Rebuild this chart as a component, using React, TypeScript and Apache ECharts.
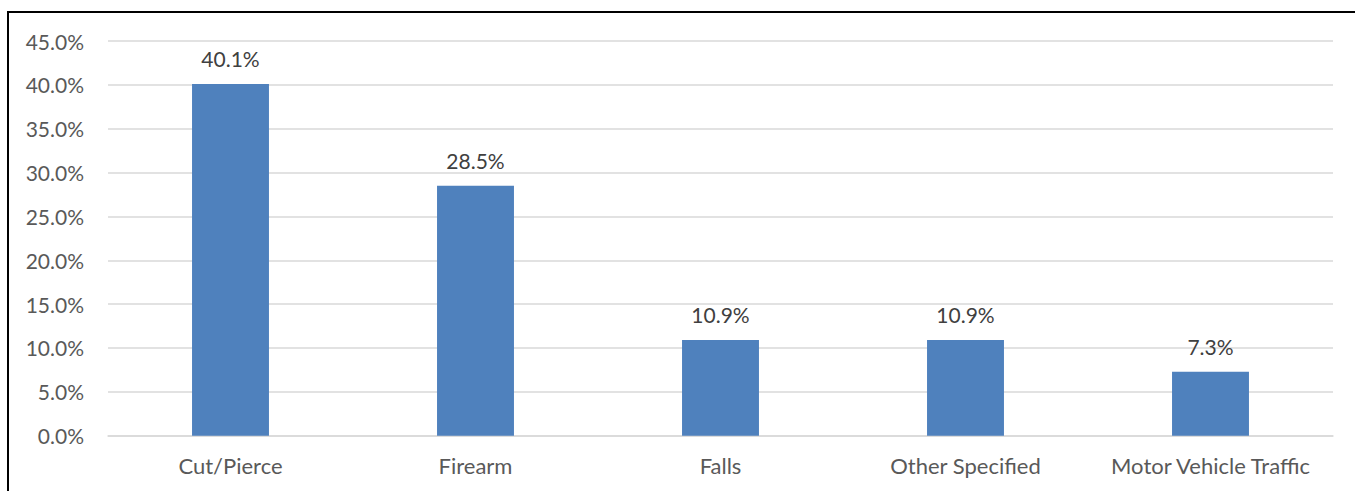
import React, { useEffect, useRef } from "react";
import * as echarts from "echarts";

const categories = ["Cut/Pierce", "Firearm", "Falls", "Other Specified", "Motor Vehicle Traffic"];
const values = [40.1, 28.5, 10.9, 10.9, 7.3];
const yMin = 0;
const yMax = 45;
const yStep = 5;

export default function App() {
  const ref = useRef<HTMLDivElement>(null);
  useEffect(() => {
    document.body.style.margin = "0";
    const chart = echarts.init(ref.current!, null, { renderer: "svg" });
    const font = "Lato, 'Open Sans', sans-serif";
    chart.setOption({
      animation: false,
      backgroundColor: "#ffffff",
      textStyle: { fontFamily: font },
      grid: { left: 108, right: 22, top: 41, bottom: 55.3 },
      graphic: [
        {
          type: "rect",
          shape: { x: 8, y: 12, width: 1500, height: 700 },
          style: { fill: "none", stroke: "#000000", lineWidth: 2 },
          silent: true,
          z: 100,
        },
      ],
      xAxis: {
        type: "category",
        data: categories,
        axisLine: { show: true, lineStyle: { color: "#D9D9D9", width: 1.5 } },
        axisTick: { show: false },
        axisLabel: { color: "#595959", fontSize: 22, fontFamily: font, margin: 19, interval: 0 },
      },
      yAxis: {
        type: "value",
        min: yMin,
        max: yMax,
        interval: yStep,
        axisLine: { show: false },
        axisTick: { show: false },
        splitLine: { lineStyle: { color: "#D9D9D9", width: 1.5 } },
        axisLabel: {
          color: "#595959",
          fontSize: 21,
          fontFamily: font,
          margin: 24,
          formatter: (v: number) => v.toFixed(1) + "%",
        },
      },
      series: [
        {
          type: "bar",
          data: values,
          barWidth: "31.4%",
          itemStyle: { color: "#4F81BD" },
          label: {
            show: true,
            position: "top",
            distance: 15,
            color: "#404040",
            fontSize: 21,
            fontFamily: font,
            formatter: (p: any) => p.value.toFixed(1) + "%",
          },
        },
      ],
    });
    return () => chart.dispose();
  }, []);
  return <div ref={ref} style={{ position: "fixed", left: 0, top: 0, width: 1355, height: 491 }} />;
}
